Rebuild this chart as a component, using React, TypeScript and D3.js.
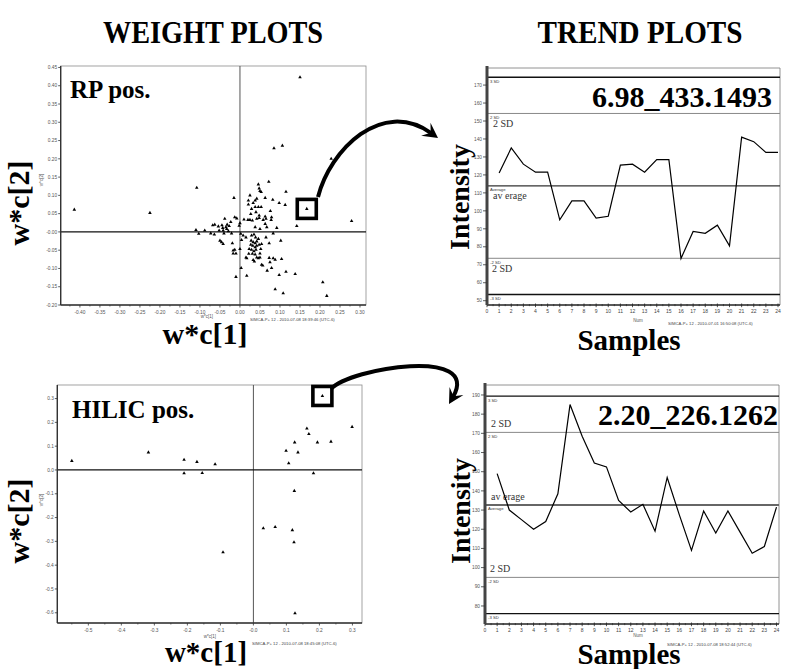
import React from "react";
import * as d3 from "d3";

// ---- RP pos. loadings (w*c[1], w*c[2]) ----
const rpLoadings: [number, number][] = [
  [-0.414, 0.061], [-0.225, 0.052], [-0.108, 0.121], [-0.110, 0.005], [-0.103, -0.005],
  [-0.088, 0.004], [-0.073, -0.004], [-0.068, 0.018], [-0.063, 0.020], [-0.064, -0.007],
  [-0.054, 0.015], [-0.052, 0.004], [-0.050, -0.024], [-0.045, 0.018], [-0.043, 0.011],
  [-0.042, 0.004], [-0.040, -0.004], [-0.038, 0.036], [-0.035, 0.013], [-0.033, 0.008],
  [-0.032, 0.020], [-0.029, 0.002], [-0.027, 0.016], [-0.023, 0.027], [-0.021, -0.004],
  [-0.046, -0.028], [-0.042, -0.033], [-0.019, -0.031], [-0.015, 0.093], [-0.013, 0.040],
  [-0.008, 0.037], [-0.013, -0.049], [-0.017, -0.059], [-0.010, -0.059], [-0.010, -0.123],
  [-0.002, 0.017], [0.000, 0.024], [0.002, -0.005], [0.003, -0.099],
  [0.150, 0.423], [0.085, 0.229], [0.106, 0.236], [0.228, 0.200], [0.072, 0.137],
  [0.046, 0.130], [0.048, 0.119], [0.050, 0.112], [0.115, 0.110], [0.053, 0.109],
  [0.025, 0.100], [0.063, 0.093], [0.082, 0.088], [0.021, 0.086], [0.038, 0.086],
  [0.042, 0.091], [0.098, 0.079], [0.113, 0.074], [0.021, 0.075], [0.033, 0.079],
  [0.038, 0.068], [0.046, 0.068], [0.053, 0.068], [0.029, 0.063], [0.076, 0.057],
  [0.040, 0.054], [0.027, 0.049], [0.048, 0.045], [0.063, 0.042], [0.079, 0.040],
  [0.010, 0.034], [0.020, 0.033], [0.025, 0.033], [0.031, 0.031], [0.042, 0.036],
  [0.048, 0.038], [0.058, 0.033], [0.065, 0.036], [0.078, 0.033], [0.063, 0.022],
  [0.067, 0.013], [0.092, 0.011], [0.142, 0.016], [0.038, 0.013], [0.050, 0.008],
  [0.008, -0.010], [0.015, -0.015], [0.029, -0.010], [0.035, -0.007], [0.039, -0.015],
  [0.046, -0.019], [0.065, -0.015], [0.083, -0.004], [0.004, -0.022], [0.028, -0.024],
  [0.033, -0.028], [0.038, -0.031], [0.042, -0.026], [0.102, -0.024], [0.054, -0.033],
  [0.073, -0.031], [0.027, -0.035], [0.032, -0.038], [0.038, -0.042], [0.042, -0.038],
  [0.048, -0.035], [0.052, -0.047], [0.023, -0.047], [0.029, -0.049], [0.035, -0.053],
  [0.040, -0.049], [0.000, -0.047], [-0.017, -0.051], [0.022, -0.060], [0.031, -0.060],
  [0.038, -0.062], [0.050, -0.059], [0.015, -0.070], [0.017, -0.072], [0.042, -0.070],
  [0.046, -0.072], [0.050, -0.070], [0.073, -0.071], [0.083, -0.072], [0.088, -0.076],
  [0.104, -0.074], [0.033, -0.077], [0.036, -0.081], [0.075, -0.083], [0.054, -0.090],
  [0.057, -0.092], [0.079, -0.099], [0.068, -0.106], [0.115, -0.109], [0.138, -0.115],
  [0.098, -0.118], [0.017, -0.120], [0.207, -0.138], [0.088, -0.157], [0.108, -0.168],
  [0.217, -0.175], [0.279, 0.030],
];
const rpHighlight: [number, number] = [0.167, 0.063];

// ---- HILIC pos. loadings ----
const hilicLoadings: [number, number][] = [
  [-0.55, 0.038], [-0.318, 0.074], [-0.21, 0.043], [-0.21, -0.014], [-0.171, 0.034],
  [-0.155, -0.013], [-0.116, 0.024], [-0.092, -0.346], [0.030, -0.245], [0.066, -0.24],
  [0.099, 0.081], [0.107, 0.028], [0.118, -0.253], [0.123, -0.304], [0.124, -0.088],
  [0.125, 0.116], [0.135, 0.074], [0.162, 0.174], [0.168, 0.151], [0.182, -0.014],
  [0.194, 0.116], [0.235, 0.119], [0.126, -0.602], [0.299, 0.181],
];
const hilicHighlight: [number, number] = [0.209, 0.311];

const rpXTicks = [-0.4, -0.35, -0.3, -0.25, -0.2, -0.15, -0.1, -0.05, 0, 0.05, 0.1, 0.15, 0.2, 0.25, 0.3];
const rpXTickLabels = ["-0.40", "-0.35", "-0.30", "-0.25", "-0.20", "-0.15", "-0.10", "-0.05", "0.00", "0.05", "0.10", "0.15", "0.20", "0.25", "0.30"];
const rpYTicks = [0.45, 0.4, 0.35, 0.3, 0.25, 0.2, 0.15, 0.1, 0.05, 0, -0.05, -0.1, -0.15, -0.2];
const rpYTickLabels = ["0.45", "0.40", "0.35", "0.30", "0.25", "0.20", "0.15", "0.10", "0.05", "-0.00", "-0.05", "-0.10", "-0.15", "-0.20"];

const hilicXTicks = [-0.5, -0.4, -0.3, -0.2, -0.1, 0, 0.1, 0.2, 0.3];
const hilicXTickLabels = ["-0.5", "-0.4", "-0.3", "-0.2", "-0.1", "-0.0", "0.1", "0.2", "0.3"];
const hilicYTicks = [0.3, 0.2, 0.1, 0, -0.1, -0.2, -0.3, -0.4, -0.5, -0.6];
const hilicYTickLabels = ["0.3", "0.2", "0.1", "0.0", "-0.1", "-0.2", "-0.3", "-0.4", "-0.5", "-0.6"];

// ---- Trend plots ----
const sampleNums = [1, 2, 3, 4, 5, 6, 7, 8, 9, 10, 11, 12, 13, 14, 15, 16, 17, 18, 19, 20, 21, 22, 23, 24];
const trendXTicks = [0, 1, 2, 3, 4, 5, 6, 7, 8, 9, 10, 11, 12, 13, 14, 15, 16, 17, 18, 19, 20, 21, 22, 23, 24];
const rpTrend = [121, 135, 126, 121.5, 121.5, 95, 105.5, 105.5, 96, 97, 125.5, 126, 121.5, 128.5, 128.5, 73.5, 88.5, 87.5, 92, 80.5, 141, 138.5, 132.5, 132.5];
const rpTrendMeanSd = [113.9, 20.15];
const rpTrendYTicks = [50, 60, 70, 80, 90, 100, 110, 120, 130, 140, 150, 160, 170];
const hilicTrend = [149, 130, 125, 120, 124, 138.5, 185, 168.5, 154.5, 152.5, 135, 129, 133, 119, 147, 127.5, 109, 129.5, 118, 129.5, 118.5, 107.5, 111, 131.5];
const hilicTrendMeanSd = [132.7, 18.9];
const hilicTrendYTicks = [80, 90, 100, 110, 120, 130, 140, 150, 160, 170, 180, 190];

const SERIF = "'Liberation Serif', 'Times New Roman', serif";
const SANS = "'Liberation Sans', Arial, sans-serif";
const triangle = d3.symbol().type(d3.symbolTriangle).size(5.5)() as string;

type Box = { l: number; t: number; r: number; b: number };

function ScatterPanel(p: {
  box: Box;
  xDomain: [number, number];
  yDomain: [number, number];
  points: [number, number][];
  highlight: [number, number];
  xTicks: number[];
  xLabels: string[];
  yTicks: number[];
  yLabels: string[];
}) {
  const { box } = p;
  const x = d3.scaleLinear().domain(p.xDomain).range([box.l, box.r]);
  const y = d3.scaleLinear().domain(p.yDomain).range([box.b, box.t]);
  const step = p.xTicks[1] - p.xTicks[0];
  const minor = p.xTicks.slice(0, -1).map((v) => v + step / 2).concat([p.xTicks[0] - step / 2]);
  const hx = x(p.highlight[0]);
  const hy = y(p.highlight[1]);
  return (
    <g>
      <rect x={box.l} y={box.t} width={box.r - box.l} height={box.b - box.t} fill="none" stroke="#8c8c8c" strokeWidth={0.8} />
      <line x1={x(0)} x2={x(0)} y1={box.t} y2={box.b} stroke="#555" strokeWidth={1} />
      <line x1={box.l} x2={box.r} y1={y(0)} y2={y(0)} stroke="#111" strokeWidth={1.2} />
      <line x1={box.l} x2={box.l} y1={box.t} y2={box.b} stroke="#333" strokeWidth={1.4} />
      <line x1={box.l} x2={box.r} y1={box.b} y2={box.b} stroke="#333" strokeWidth={1.4} />
      {p.yTicks.map((v, i) => (
        <g key={"y" + i}>
          <line x1={box.l - 2.5} x2={box.l} y1={y(v)} y2={y(v)} stroke="#333" strokeWidth={0.8} />
          <text x={box.l - 3.5} y={y(v) + 1.7} fontSize={4.8} fontFamily={SANS} fill="#555" textAnchor="end">
            {p.yLabels[i]}
          </text>
        </g>
      ))}
      {p.xTicks.map((v, i) => (
        <g key={"x" + i}>
          <line x1={x(v)} x2={x(v)} y1={box.b} y2={box.b + 2.5} stroke="#333" strokeWidth={0.8} />
          <text x={x(v)} y={box.b + 8.5} fontSize={4.8} fontFamily={SANS} fill="#555" textAnchor="middle">
            {p.xLabels[i]}
          </text>
        </g>
      ))}
      {minor
        .filter((v) => x(v) > box.l && x(v) < box.r)
        .map((v, i) => (
          <line key={"m" + i} x1={x(v)} x2={x(v)} y1={box.b} y2={box.b + 1.5} stroke="#333" strokeWidth={0.7} />
        ))}
      {p.points.map((d, i) => (
        <path key={i} d={triangle} transform={`translate(${x(d[0])},${y(d[1])})`} fill="#000" />
      ))}
      <path d={triangle} transform={`translate(${hx},${hy})`} fill="#000" />
      <rect x={hx - 9.5} y={hy - 9.5} width={19} height={19} fill="none" stroke="#000" strokeWidth={3.6} />
    </g>
  );
}

function TrendPanel(p: {
  box: Box;
  xRange: [number, number];
  yDomain: [number, number];
  values: number[];
  meanSd: number[];
  yTicks: number[];
  labelsAbove: boolean;
  avgColor: string;
  avgWidth: number;
}) {
  const { box } = p;
  const x = d3.scaleLinear().domain([0, 24]).range(p.xRange);
  const y = d3.scaleLinear().domain(p.yDomain).range([box.b, box.t]);
  const [m, sd] = p.meanSd;
  const line = d3
    .line<number>()
    .x((_, i) => x(sampleNums[i]))
    .y((d) => y(d));
  const refs = [
    { v: m + 3 * sd, c: "#111", w: 1.3, tiny: "3 SD" },
    { v: m + 2 * sd, c: "#888", w: 1, tiny: "2 SD" },
    { v: m, c: p.avgColor, w: p.avgWidth, tiny: "Average" },
    { v: m - 2 * sd, c: "#888", w: 1, tiny: "-2 SD" },
    { v: m - 3 * sd, c: "#111", w: 1.3, tiny: "-3 SD" },
  ];
  const bigOff = p.labelsAbove ? -5 : 13.5;
  const minor = trendXTicks.slice(0, -1).map((v) => v + 0.5);
  return (
    <g>
      <line x1={box.l} x2={box.r} y1={box.t} y2={box.t} stroke="#777" strokeWidth={0.8} />
      <line x1={box.r} x2={box.r} y1={box.t} y2={box.b} stroke="#777" strokeWidth={0.8} />
      {refs.map((r, i) => (
        <g key={i}>
          <line x1={box.l} x2={box.r} y1={y(r.v)} y2={y(r.v)} stroke={r.c} strokeWidth={r.w} />
          <text x={box.l + 3} y={y(r.v) + 5.5} fontSize={4.2} fontFamily={SANS} fill="#333">
            {r.tiny}
          </text>
        </g>
      ))}
      <text x={box.l + 6} y={y(m + 2 * sd) + bigOff} fontSize={10} fontFamily={SERIF} fill="#333">
        2 SD
      </text>
      <text x={box.l + 6} y={y(m) + bigOff} fontSize={10} fontFamily={SERIF} fill="#333">
        av<tspan dx={2.5}>erage</tspan>
      </text>
      <text x={box.l + 5} y={y(m - 2 * sd) + bigOff} fontSize={10} fontFamily={SERIF} fill="#333">
        2 SD
      </text>
      <path d={line(p.values) as string} fill="none" stroke="#000" strokeWidth={1.2} strokeLinejoin="miter" />
      <line x1={box.l} x2={box.r} y1={box.b} y2={box.b} stroke="#222" strokeWidth={1.3} />
      {trendXTicks.map((v) => (
        <g key={"x" + v}>
          <line x1={x(v)} x2={x(v)} y1={box.b - 1.5} y2={box.b + 2.2} stroke="#222" strokeWidth={0.8} />
          <text x={x(v)} y={box.b + 8} fontSize={5} fontFamily={SANS} fill="#444" textAnchor="middle">
            {v}
          </text>
        </g>
      ))}
      {minor.map((v) => (
        <line key={"m" + v} x1={x(v)} x2={x(v)} y1={box.b - 1} y2={box.b + 1.2} stroke="#222" strokeWidth={0.6} />
      ))}
      <line x1={box.l} x2={box.l} y1={box.t - 2} y2={box.b} stroke="#444" strokeWidth={3} />
      {p.yTicks.map((v) => (
        <g key={"y" + v}>
          <line x1={box.l - 4} x2={box.l} y1={y(v)} y2={y(v)} stroke="#333" strokeWidth={0.8} />
          <text x={box.l - 5} y={y(v) + 1.7} fontSize={4.8} fontFamily={SANS} fill="#555" textAnchor="end">
            {v}
          </text>
        </g>
      ))}
    </g>
  );
}

// Thick curved arrow with a barbed head at the end point.
function CurvedArrow({ p0, p1, p2, p3 }: { p0: number[]; p1: number[]; p2: number[]; p3: number[] }) {
  const dx = p3[0] - p2[0];
  const dy = p3[1] - p2[1];
  const len = Math.hypot(dx, dy);
  const ux = dx / len;
  const uy = dy / len;
  const L = 15;
  const Wd = 8;
  const back = 8;
  const e = [p3[0] - ux * back, p3[1] - uy * back];
  const c2 = [p2[0] - ux * back * 0.5, p2[1] - uy * back * 0.5];
  const path = d3.path();
  path.moveTo(p0[0], p0[1]);
  path.bezierCurveTo(p1[0], p1[1], c2[0], c2[1], e[0], e[1]);
  const bx = p3[0] - ux * L;
  const by = p3[1] - uy * L;
  const head = [
    [p3[0], p3[1]],
    [bx - uy * Wd, by + ux * Wd],
    [p3[0] - ux * L * 0.6, p3[1] - uy * L * 0.6],
    [bx + uy * Wd, by - ux * Wd],
  ]
    .map((q) => q.join(","))
    .join(" ");
  return (
    <g>
      <path d={path.toString()} fill="none" stroke="#000" strokeWidth={4} />
      <polygon points={head} fill="#000" />
    </g>
  );
}

export default function App() {
  const rpBox: Box = { l: 60.7, t: 66, r: 366, b: 305 };
  const hilicBox: Box = { l: 57.3, t: 385, r: 362, b: 623 };
  const trendTopBox: Box = { l: 487, t: 68, r: 780, b: 305 };
  const trendBotBox: Box = { l: 485, t: 385, r: 779, b: 624 };
  return (
    <svg width={786} height={669} style={{ position: "absolute", left: 0, top: 0, background: "#fff" }}>
      <rect width={786} height={669} fill="#fff" />
      <text x={213} y={43} fontSize={32} fontWeight="bold" fontFamily={SERIF} textAnchor="middle" textLength={220} lengthAdjust="spacingAndGlyphs">
        WEIGHT PLOTS
      </text>
      <text x={640} y={43} fontSize={32} fontWeight="bold" fontFamily={SERIF} textAnchor="middle" textLength={205} lengthAdjust="spacingAndGlyphs">
        TREND PLOTS
      </text>

      <ScatterPanel
        box={rpBox}
        xDomain={[-0.448, 0.315]}
        yDomain={[-0.2, 0.454]}
        points={rpLoadings}
        highlight={rpHighlight}
        xTicks={rpXTicks}
        xLabels={rpXTickLabels}
        yTicks={rpYTicks}
        yLabels={rpYTickLabels}
      />
      <text x={70} y={98} fontSize={25} fontWeight="bold" fontFamily={SERIF}>RP pos.</text>
      <text x={207} y={318} fontSize={4.5} fontFamily={SANS} fill="#555" textAnchor="middle">w*c[1]</text>
      <text transform="translate(43,180) rotate(-90)" fontSize={4.5} fontFamily={SANS} fill="#555" textAnchor="middle">w*c[2]</text>
      <text x={205} y={344} fontSize={30} fontWeight="bold" fontFamily={SERIF} textAnchor="middle">w*c[1]</text>
      <text x={250} y={321} fontSize={4.2} fontFamily={SANS} fill="#444">SIMCA-P+ 12 - 2010-07-08 18:39:46 (UTC-6)</text>
      <text transform="translate(29,203) rotate(-90)" fontSize={30} fontWeight="bold" fontFamily={SERIF} textAnchor="middle">w*c[2]</text>

      <ScatterPanel
        box={hilicBox}
        xDomain={[-0.594, 0.329]}
        yDomain={[-0.643, 0.357]}
        points={hilicLoadings}
        highlight={hilicHighlight}
        xTicks={hilicXTicks}
        xLabels={hilicXTickLabels}
        yTicks={hilicYTicks}
        yLabels={hilicYTickLabels}
      />
      <text x={72} y={418} fontSize={25} fontWeight="bold" fontFamily={SERIF}>HILIC pos.</text>
      <text x={210} y={637.5} fontSize={4.5} fontFamily={SANS} fill="#555" textAnchor="middle">w*c[1]</text>
      <text transform="translate(43,500) rotate(-90)" fontSize={4.5} fontFamily={SANS} fill="#555" textAnchor="middle">w*c[2]</text>
      <text x={206} y={662} fontSize={29} fontWeight="bold" fontFamily={SERIF} textAnchor="middle">w*c[1]</text>
      <text x={252} y={645} fontSize={4.2} fontFamily={SANS} fill="#444">SIMCA-P+ 12 - 2010-07-08 18:45:08 (UTC-6)</text>
      <text transform="translate(29,521) rotate(-90)" fontSize={30} fontWeight="bold" fontFamily={SERIF} textAnchor="middle">w*c[2]</text>

      <TrendPanel
        box={trendTopBox}
        xRange={[487, 778]}
        yDomain={[47.6, 179.5]}
        values={rpTrend}
        meanSd={rpTrendMeanSd}
        yTicks={rpTrendYTicks}
        labelsAbove={false}
        avgColor="#333"
        avgWidth={1.4}
      />
      <text x={772} y={106.5} fontSize={30} fontWeight="bold" fontFamily={SERIF} textAnchor="end">6.98_433.1493</text>
      <text transform="translate(469,197) rotate(-90)" fontSize={28} fontWeight="bold" fontFamily={SERIF} textAnchor="middle">Intensity</text>
      <text x={638} y={322} fontSize={4.5} fontFamily={SANS} fill="#555" textAnchor="middle">Num</text>
      <text x={668} y={325} fontSize={4.2} fontFamily={SANS} fill="#444">SIMCA-P+ 12 - 2010-07-01 16:50:08 (UTC-6)</text>
      <text x={629} y={350} fontSize={29} fontWeight="bold" fontFamily={SERIF} textAnchor="middle">Samples</text>

      <TrendPanel
        box={trendBotBox}
        xRange={[485, 776.5]}
        yDomain={[70.6, 195.2]}
        values={hilicTrend}
        meanSd={hilicTrendMeanSd}
        yTicks={hilicTrendYTicks}
        labelsAbove={true}
        avgColor="#666"
        avgWidth={2}
      />
      <text x={778} y={425} fontSize={30} fontWeight="bold" fontFamily={SERIF} textAnchor="end">2.20_226.1262</text>
      <text transform="translate(470,511) rotate(-90)" fontSize={28} fontWeight="bold" fontFamily={SERIF} textAnchor="middle">Intensity</text>
      <text x={638} y={636.5} fontSize={4.5} fontFamily={SANS} fill="#555" textAnchor="middle">Num</text>
      <text x={667} y={646} fontSize={4.2} fontFamily={SANS} fill="#444">SIMCA-P+ 12 - 2010-07-08 18:52:44 (UTC-6)</text>
      <text x={629} y={664} fontSize={29} fontWeight="bold" fontFamily={SERIF} textAnchor="middle">Samples</text>

      <CurvedArrow p0={[318, 197]} p1={[330, 150]} p2={[385, 100]} p3={[438, 138]} />
      <CurvedArrow p0={[331, 389]} p1={[350, 368]} p2={[480, 350]} p3={[449, 404]} />
    </svg>
  );
}
